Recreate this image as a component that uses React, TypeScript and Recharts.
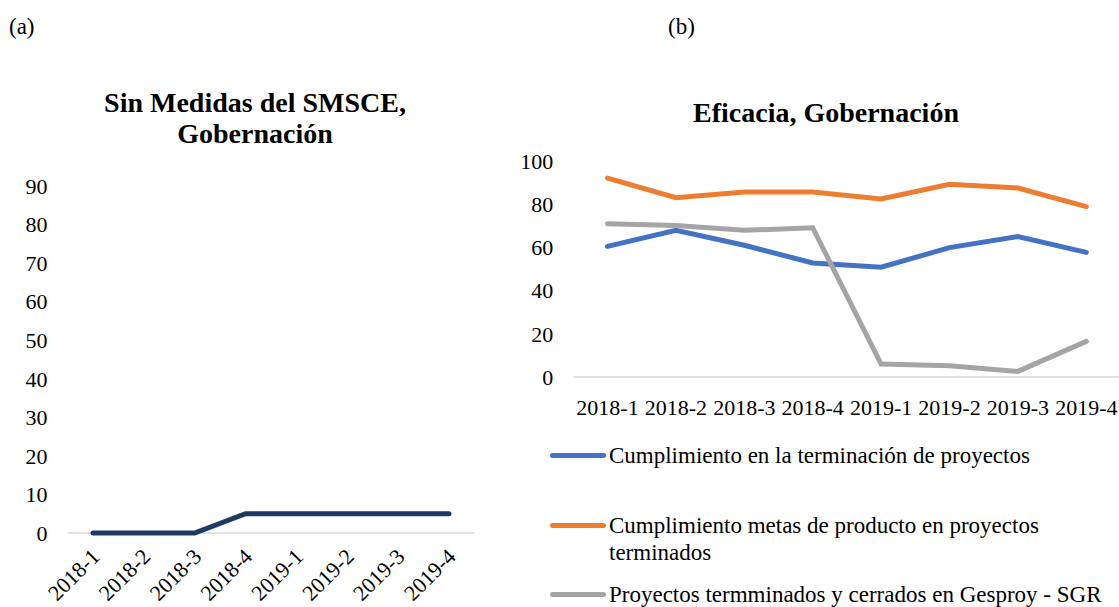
import { CartesianGrid, Legend, Line, LineChart, XAxis, YAxis } from 'recharts'

const periods = ['2018-1', '2018-2', '2018-3', '2018-4', '2019-1', '2019-2', '2019-3', '2019-4']

// (a) Sin Medidas del SMSCE
const sinMedidas = [0, 0, 0, 5, 5, 5, 5, 5]
const leftTicks = [0, 10, 20, 30, 40, 50, 60, 70, 80, 90]

// (b) Eficacia
const terminacion = [60.5, 67.9, 61.0, 52.8, 50.8, 59.9, 65.0, 57.7]
const metasProducto = [92.1, 83.0, 85.6, 85.6, 82.4, 89.2, 87.5, 78.9]
const gesproy = [71.0, 70.1, 67.9, 69.1, 6.0, 5.2, 2.6, 16.5]
const rightTicks = [0, 20, 40, 60, 80, 100]

const seriesNames = [
  'Cumplimiento en la terminación de proyectos',
  'Cumplimiento metas de producto en proyectos terminados',
  'Proyectos termminados y cerrados en Gesproy - SGR',
]

const FONT = '"Liberation Serif", serif'
const AXIS_GRAY = '#d9d9d9'

const leftData = periods.map((p, i) => ({ period: p, value: sinMedidas[i] }))
const rightData = periods.map((p, i) => ({
  period: p,
  terminacion: terminacion[i],
  metas: metasProducto[i],
  gesproy: gesproy[i],
}))

const RotatedTick = ({ x, y, payload }: any) => (
  <text
    x={x + 8}
    y={y + 17}
    transform={`rotate(-45, ${x + 8}, ${y + 17})`}
    textAnchor="end"
    fill="#000"
    style={{ fontSize: 22, fontFamily: FONT }}
  >
    {payload.value}
  </text>
)

const FlatTick = ({ x, y, payload }: any) => (
  <text x={x} y={y + 30} textAnchor="middle" fill="#000" style={{ fontSize: 22, fontFamily: FONT }}>
    {payload.value}
  </text>
)

const ValueTick = ({ x, y, payload }: any) => (
  <text x={x} y={y} dy="0.355em" textAnchor="end" fill="#000" style={{ fontSize: 22, fontFamily: FONT }}>
    {payload.value}
  </text>
)

const LegendContent = ({ payload }: any) => (
  <div style={{ fontFamily: FONT, fontSize: 23, lineHeight: '27px', color: '#000' }}>
    {(payload ?? []).map((entry: any, i: number) => (
      <div key={entry.value} style={{ display: 'flex', height: i === 2 ? 27 : 69.5 }}>
        <div
          style={{
            width: 56,
            height: 5,
            marginTop: 11,
            borderRadius: 3,
            background: entry.color,
            flexShrink: 0,
          }}
        />
        <div style={{ marginLeft: 3, width: 450, whiteSpace: i === 2 ? 'nowrap' : 'normal' }}>
          {entry.value}
        </div>
      </div>
    ))}
  </div>
)

const titleStyle = {
  position: 'absolute' as const,
  fontFamily: FONT,
  fontWeight: 'bold' as const,
  fontSize: 28,
  lineHeight: '31px',
  textAlign: 'center' as const,
  color: '#000',
}

const panelLabel = {
  position: 'absolute' as const,
  top: 14,
  fontFamily: FONT,
  fontSize: 23,
  color: '#000',
}

export default function App() {
  return (
    <div
      style={{
        position: 'fixed',
        left: 0,
        top: 0,
        width: 1119,
        height: 607,
        overflow: 'hidden',
        background: '#fff',
        fontFamily: FONT,
      }}
    >
      <div style={{ ...panelLabel, left: 9 }}>(a)</div>
      <div style={{ ...panelLabel, left: 668 }}>(b)</div>

      <div style={{ ...titleStyle, left: 55, width: 400, top: 87 }}>
        Sin Medidas del SMSCE,
        <br />
        Gobernación
      </div>
      <div style={{ ...titleStyle, left: 626, width: 400, top: 97 }}>Eficacia, Gobernación</div>

      <div style={{ position: 'absolute', left: 0, top: 0 }}>
        <LineChart
          width={480}
          height={607}
          data={leftData}
          margin={{ top: 186, right: 5.6, bottom: 0, left: 0 }}
          style={{ fontFamily: FONT }}
        >
          <CartesianGrid vertical={false} horizontalValues={[0]} stroke={AXIS_GRAY} strokeWidth={1.5} />
          <XAxis
            dataKey="period"
            height={74}
            interval={0}
            padding={{ left: 25.4, right: 25.4 }}
            tickLine={false}
            axisLine={false}
            tick={<RotatedTick />}
          />
          <YAxis
            width={67.6}
            domain={[0, 90]}
            ticks={leftTicks}
            interval={0}
            axisLine={false}
            tickLine={false}
            tickMargin={14}
            tick={<ValueTick />}
          />
          <Line
            dataKey="value"
            type="linear"
            stroke="#203864"
            strokeWidth={5}
            strokeLinecap="round"
            dot={false}
            isAnimationActive={false}
          />
        </LineChart>
      </div>

      <div style={{ position: 'absolute', left: 500, top: 0 }}>
        <LineChart
          width={630}
          height={607}
          data={rightData}
          margin={{ top: 161, right: 9.5, bottom: 190, left: 0 }}
          style={{ fontFamily: FONT }}
        >
          <CartesianGrid vertical={false} horizontalValues={[0]} stroke={AXIS_GRAY} strokeWidth={1.5} />
          <XAxis
            dataKey="period"
            height={40}
            interval={0}
            padding={{ left: 34.2, right: 34.2 }}
            tickLine={false}
            axisLine={false}
            tick={<FlatTick />}
          />
          <YAxis
            width={73.3}
            domain={[0, 100]}
            ticks={rightTicks}
            interval={0}
            axisLine={false}
            tickLine={false}
            tickMargin={14}
            tick={<ValueTick />}
          />
          <Legend
            layout="horizontal"
            verticalAlign="middle"
            align="center"
            content={<LegendContent />}
            wrapperStyle={{ left: 50, top: 442, width: 580, height: 170 }}
          />
          <Line
            name={seriesNames[0]}
            dataKey="terminacion"
            type="linear"
            stroke="#4472c4"
            strokeWidth={5}
            strokeLinecap="round"
            dot={false}
            isAnimationActive={false}
          />
          <Line
            name={seriesNames[1]}
            dataKey="metas"
            type="linear"
            stroke="#ed7d31"
            strokeWidth={5}
            strokeLinecap="round"
            dot={false}
            isAnimationActive={false}
          />
          <Line
            name={seriesNames[2]}
            dataKey="gesproy"
            type="linear"
            stroke="#a5a5a5"
            strokeWidth={5}
            strokeLinecap="round"
            dot={false}
            isAnimationActive={false}
          />
        </LineChart>
      </div>
    </div>
  )
}
